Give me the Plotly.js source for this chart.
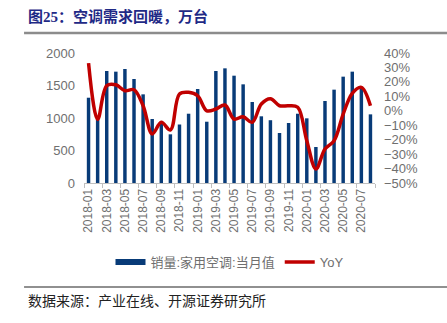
<!DOCTYPE html>
<html><head><meta charset="utf-8">
<script src="https://cdn.plot.ly/plotly-3.0.1.min.js"></script>
<style>html,body{margin:0;padding:0;background:#fff;}#chart{width:447px;height:323px;}</style>
</head><body><div id="chart"></div>
<script>
const months = ['2018-01','2018-02','2018-03','2018-04','2018-05','2018-06','2018-07','2018-08','2018-09','2018-10','2018-11','2018-12',
'2019-01','2019-02','2019-03','2019-04','2019-05','2019-06','2019-07','2019-08','2019-09','2019-10','2019-11','2019-12',
'2020-01','2020-02','2020-03','2020-04','2020-05','2020-06','2020-07','2020-08'];
const sales = [1312,980,1723,1713,1754,1600,1364,985,936,749,900,1066,
1446,943,1723,1764,1651,1518,1246,1026,966,769,923,1066,
995,554,1262,1436,1636,1713,1461,1056];
const yoy = [33,-6,17.4,18,13.9,14.6,3.5,-16,-8,-13.3,11.6,12.8,
10.4,0,1.2,4,-5.7,-4.1,-8,4.7,8.4,3.5,3.5,2.4,
-20.7,-40.3,-26.5,-20.7,-2.3,12.1,16.2,3.5];
const salesName = '销量:家用空调:当月值';
const yoyName = 'YoY';

const navy = '#083b78';
const red = '#c00000';
const gray = '#6f6f6f';

const data = [
  {type:'bar', x:months, y:sales, name:salesName, marker:{color:navy}, showlegend:false, yaxis:'y', hoverinfo:'skip'},
  {type:'scatter', mode:'lines', x:[null], y:[null], name:salesName, line:{color:navy, width:6}, yaxis:'y'},
  {type:'scatter', mode:'lines', x:months, y:yoy, name:yoyName, line:{color:red, width:3.5, shape:'spline', smoothing:1}, yaxis:'y2'}
];

const layout = {
  width:447, height:323,
  margin:{l:84, r:72, t:53, b:140},
  paper_bgcolor:'#fff', plot_bgcolor:'#fff',
  bargap:0.62,
  font:{family:'Liberation Sans, Arial, Noto Sans CJK SC, sans-serif', color:gray, size:13},
  xaxis:{type:'category', dtick:2, tickangle:-90, tickson:'boundaries', ticks:'outside', ticklen:4, tickcolor:'#bfbfbf',
    showline:true, linecolor:'#bfbfbf', linewidth:1, showgrid:false, zeroline:false,
    tickfont:{size:12, color:gray}, range:[-0.5, 31.5]},
  yaxis:{range:[0,2000], dtick:500, showgrid:false, zeroline:false, showline:false, ticks:'', ticklabelstandoff:8,
    tickfont:{size:13, color:gray}},
  yaxis2:{overlaying:'y', side:'right', range:[-50,40], dtick:10, ticksuffix:'%', showgrid:false, zeroline:false, showline:false, ticks:'', ticklabelstandoff:8,
    tickfont:{size:13, color:gray}},
  showlegend:true,
  legend:{orientation:'h', x:0.5, xanchor:'center', y:-0.608, yanchor:'middle', font:{size:13, color:gray,
    family:'Liberation Sans, Arial, Noto Sans CJK SC, sans-serif'}, itemwidth:30, traceorder:'normal'},
  annotations:[
    {xref:'paper', yref:'paper', x:-0.2, y:1.277, xanchor:'left', yanchor:'middle', showarrow:false,
     text:'<b>图25：空调需求回暖，万台</b>', font:{family:'Liberation Serif, Noto Sans CJK SC, serif', size:15, color:'#1f2a86'}},
    {xref:'paper', yref:'paper', x:-0.2, y:-0.9, xanchor:'left', yanchor:'middle', showarrow:false,
     text:'数据来源：产业在线、开源证券研究所', font:{family:'Noto Sans CJK SC, sans-serif', size:14, color:'#222'}}
  ],
  shapes:[
    {type:'line', xref:'paper', yref:'paper', x0:-0.206, x1:1.25, y0:1.154, y1:1.154, line:{color:'#8c8c8c', width:2.5}},
    {type:'line', xref:'paper', yref:'paper', x0:-0.206, x1:1.25, y0:-0.8, y1:-0.8, line:{color:'#222', width:1.2}}
  ]
};
Plotly.newPlot('chart', data, layout, {displayModeBar:false, staticPlot:true});
</script></body></html>
